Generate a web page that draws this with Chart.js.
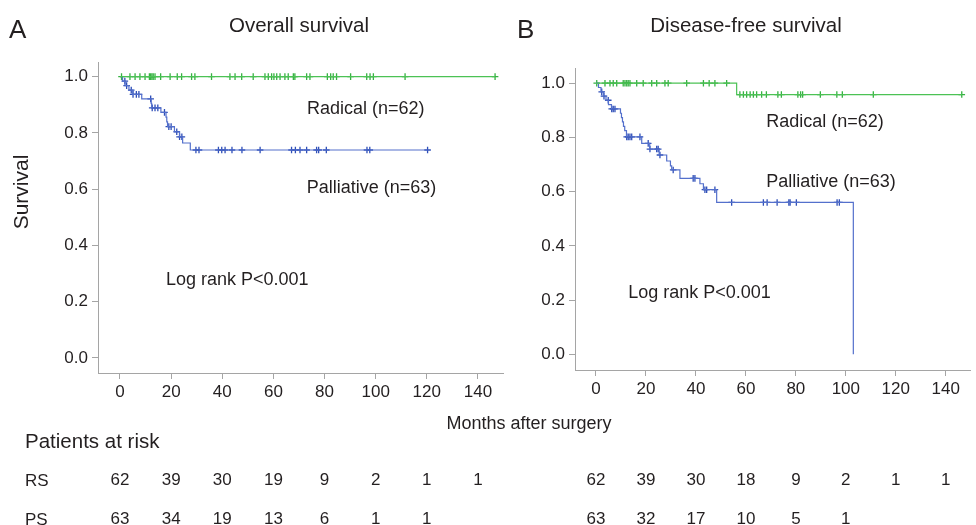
<!DOCTYPE html>
<html>
<head>
<meta charset="utf-8">
<script src="https://cdn.jsdelivr.net/npm/chart.js@4/dist/chart.umd.min.js"></script>
<style>
  body { margin: 0; background: #fff; width: 976px; height: 525px; overflow: hidden; position: relative;
         font-family: "Liberation Sans", Arial, sans-serif; color: #231f20; }
  canvas { position: absolute; top: 0; }
  .t { position: absolute; white-space: nowrap; line-height: 1; }
  .c { transform: translate(-50%, -50%); }
  .l { transform: translate(0, -50%); }
</style>
</head>
<body>
<canvas id="chartA" width="510" height="525" style="left:0"></canvas>
<canvas id="chartB" width="466" height="525" style="left:510px"></canvas>

<div class="t l" style="left:9px; top:29px; font-size:26px">A</div>
<div class="t l" style="left:517px; top:29px; font-size:26px">B</div>
<div class="t c" style="left:299px; top:25px; font-size:20.5px">Overall survival</div>
<div class="t c" style="left:746px; top:25px; font-size:20.5px">Disease-free survival</div>
<div class="t c" style="left:20px; top:192px; font-size:21px; transform: translate(-50%,-50%) rotate(-90deg)">Survival</div>
<div class="t c" style="left:529px; top:423px; font-size:18px">Months after surgery</div>
<div class="t l" style="left:25px; top:441px; font-size:20.5px">Patients at risk</div>
<div class="t l" style="left:25px; top:480px; font-size:17px">RS</div>
<div class="t l" style="left:25px; top:519px; font-size:17px">PS</div>

<script>
var monthTicks = [0, 20, 40, 60, 80, 100, 120, 140];
var survTicks = [0, 0.2, 0.4, 0.6, 0.8, 1.0];

// A - overall survival
var osRadicalTime = [0, 146.7];
var osRadicalSurv = [1, 1];
var osRadicalCens = [0.6, 3.9, 5.9, 7.8, 9.8, 11.5, 12.0, 12.5, 13.0, 13.7, 15.9, 19.6, 22.4, 24.1, 28.0, 29.3, 35.8,
  43.0, 45.0, 47.6, 52.1, 56.7, 58.0, 59.3, 60.2, 61.3, 62.6, 64.5, 65.8, 67.8, 68.4, 73.0, 74.3, 81.1, 82.4, 83.4,
  84.7, 90.2, 96.5, 97.8, 99.1, 111.5, 146.7];
var osPalliTime = [0, 1.0, 2.0, 3.5, 5.0, 8.5, 12.2, 12.4, 16.0, 18.0, 18.3, 18.6, 21.3, 23.3, 24.5, 27.5, 120.3];
var osPalliSurv = [1, 0.984, 0.968, 0.952, 0.937, 0.921, 0.905, 0.889, 0.873, 0.856, 0.839, 0.822, 0.804, 0.786, 0.764, 0.739, 0.739];
var osPalliCens = [1.9, 2.6, 4.4, 5.1, 6.4, 7.4, 12.0, 12.6, 13.7, 14.8, 17.4, 19.1, 20.0, 22.2, 23.3, 24.2,
  29.7, 30.9, 38.5, 39.8, 41.1, 43.8, 47.7, 54.8, 67.1, 68.6, 70.4, 73.0, 76.9, 77.7, 80.7, 96.6, 97.7, 120.3];
var osRiskRS = [62, 39, 30, 19, 9, 2, 1, 1];
var osRiskPS = [63, 34, 19, 13, 6, 1, 1];

// B - disease-free survival
var dfsRadicalTime = [0, 56.3, 146.4];
var dfsRadicalSurv = [1, 0.958, 0.958];
var dfsRadicalCens = [0.3, 3.6, 5.6, 6.9, 8.3, 10.9, 11.6, 12.3, 12.9, 13.6, 16.3, 18.9, 22.3, 24.3, 27.6, 28.9, 36.3,
  43.0, 45.3, 47.6, 52.3, 57.6, 59.0, 60.3, 61.7, 63.0, 64.3, 66.3, 68.2, 72.8, 74.2, 80.8, 81.9, 82.7, 89.8, 96.4,
  98.6, 111.0, 146.4];
var dfsPalliTime = [0, 1.0, 2.0, 3.0, 4.0, 5.0, 6.2, 9.8, 10.2, 10.6, 11.0, 11.5, 12.2, 18.3, 21.5, 25.3, 28.3, 29.8,
  30.3, 33.6, 41.6, 43.0, 48.3, 103.0];
var dfsPalliSurv = [1, 0.984, 0.968, 0.952, 0.937, 0.921, 0.905, 0.889, 0.873, 0.857, 0.841, 0.825, 0.802, 0.778,
  0.757, 0.735, 0.713, 0.695, 0.680, 0.649, 0.629, 0.607, 0.560, 0];
var dfsPalliCens = [2.3, 3.2, 4.9, 6.3, 6.9, 7.6, 12.3, 12.9, 13.6, 14.3, 17.6, 20.9, 21.6, 24.3, 24.9, 25.6, 30.9,
  38.9, 39.6, 43.6, 44.3, 47.6, 54.3, 67.0, 68.5, 72.5, 77.2, 77.7, 80.2, 96.5, 97.4];
var dfsRiskRS = [62, 39, 30, 18, 9, 2, 1, 1];
var dfsRiskPS = [63, 32, 17, 10, 5, 1];

var green = "#4cc255";
var blue = "#5470cc";
var axisGray = "#a5a5a5";
var font = "'Liberation Sans', Arial, sans-serif";

function curve(times, survs) {
  return times.map(function (t, i) { return { x: t, y: survs[i] }; });
}

function survAt(times, survs, t) {
  var s = survs[0];
  for (var i = 0; i < times.length; i++) {
    if (times[i] <= t) s = survs[i];
  }
  return s;
}

function marks(cens, times, survs) {
  return cens.map(function (t) { return { x: t, y: survAt(times, survs, t) }; });
}

function makeChart(id, cfg) {
  var notesPlugin = {
    id: "notes",
    afterDraw: function (chart) {
      var c = chart.ctx, xs = chart.scales.x, ys = chart.scales.y;
      c.save();
      c.fillStyle = "#231f20";
      c.font = "18px " + font;
      c.textAlign = "left";
      c.textBaseline = "middle";
      cfg.notes.forEach(function (n) {
        c.fillText(n[0], xs.getPixelForValue(n[1]), ys.getPixelForValue(n[2]));
      });
      // patients at risk
      c.font = "17px " + font;
      c.textAlign = "center";
      cfg.riskRS.forEach(function (v, i) {
        c.fillText(v, xs.getPixelForValue(monthTicks[i]), 480);
      });
      cfg.riskPS.forEach(function (v, i) {
        c.fillText(v, xs.getPixelForValue(monthTicks[i]), 519);
      });
      c.restore();
    }
  };

  return new Chart(document.getElementById(id).getContext("2d"), {
    type: "line",
    data: {
      datasets: [
        { data: curve(cfg.rTime, cfg.rSurv), borderColor: green, borderWidth: 1.2, stepped: true, pointRadius: 0, fill: false },
        { data: curve(cfg.pTime, cfg.pSurv), borderColor: blue, borderWidth: 1.2, stepped: true, pointRadius: 0, fill: false },
        { data: marks(cfg.rCens, cfg.rTime, cfg.rSurv), showLine: false, pointStyle: "cross", pointRadius: 3.3,
          pointBorderColor: "#36b242", pointBorderWidth: 1.3, borderColor: green },
        { data: marks(cfg.pCens, cfg.pTime, cfg.pSurv), showLine: false, pointStyle: "cross", pointRadius: 3.3,
          pointBorderColor: "#2f4fb8", pointBorderWidth: 1.3, borderColor: blue }
      ]
    },
    options: {
      responsive: false,
      animation: false,
      events: [],
      layout: { padding: cfg.padding },
      plugins: { legend: { display: false }, tooltip: { enabled: false } },
      scales: {
        x: {
          type: "linear",
          min: cfg.xMin,
          max: cfg.xMax,
          afterBuildTicks: function (s) { s.ticks = monthTicks.map(function (v) { return { value: v }; }); },
          afterFit: function (s) { s.height = 40; },
          ticks: { color: "#231f20", font: { family: font, size: 17 }, padding: 3, maxRotation: 0 },
          grid: { drawOnChartArea: false, drawTicks: true, tickLength: 6, color: axisGray },
          border: { display: true, color: axisGray, width: 1 }
        },
        y: {
          type: "linear",
          min: cfg.yMin,
          max: cfg.yMax,
          afterBuildTicks: function (s) { s.ticks = survTicks.map(function (v) { return { value: v }; }); },
          afterFit: function (s) { s.width = cfg.yWidth; },
          ticks: {
            color: "#231f20", font: { family: font, size: 17 }, padding: 4,
            callback: function (v) { return Number(v).toFixed(1); }
          },
          grid: { drawOnChartArea: false, drawTicks: true, tickLength: 6, color: axisGray },
          border: { display: true, color: axisGray, width: 1 }
        }
      }
    },
    plugins: [notesPlugin]
  });
}

makeChart("chartA", {
  rTime: osRadicalTime, rSurv: osRadicalSurv, rCens: osRadicalCens,
  pTime: osPalliTime, pSurv: osPalliSurv, pCens: osPalliCens,
  riskRS: osRiskRS, riskPS: osRiskPS,
  notes: [["Radical (n=62)", 73.1, 0.884], ["Palliative (n=63)", 73.0, 0.603], ["Log rank P<0.001", 18.0, 0.276]],
  xMin: -8.6, xMax: 149.8, yMin: -0.054, yMax: 1.052,
  yWidth: 98,
  padding: { left: 0, top: 62, right: 7, bottom: 112 }
});

makeChart("chartB", {
  rTime: dfsRadicalTime, rSurv: dfsRadicalSurv, rCens: dfsRadicalCens,
  pTime: dfsPalliTime, pSurv: dfsPalliSurv, pCens: dfsPalliCens,
  riskRS: dfsRiskRS, riskPS: dfsRiskPS,
  notes: [["Radical (n=62)", 68.1, 0.855], ["Palliative (n=63)", 68.1, 0.637], ["Log rank P<0.001", 12.9, 0.225]],
  xMin: -8.4, xMax: 149.7, yMin: -0.058, yMax: 1.056,
  yWidth: 65,
  padding: { left: 0, top: 68, right: 6, bottom: 115 }
});
</script>
</body>
</html>
